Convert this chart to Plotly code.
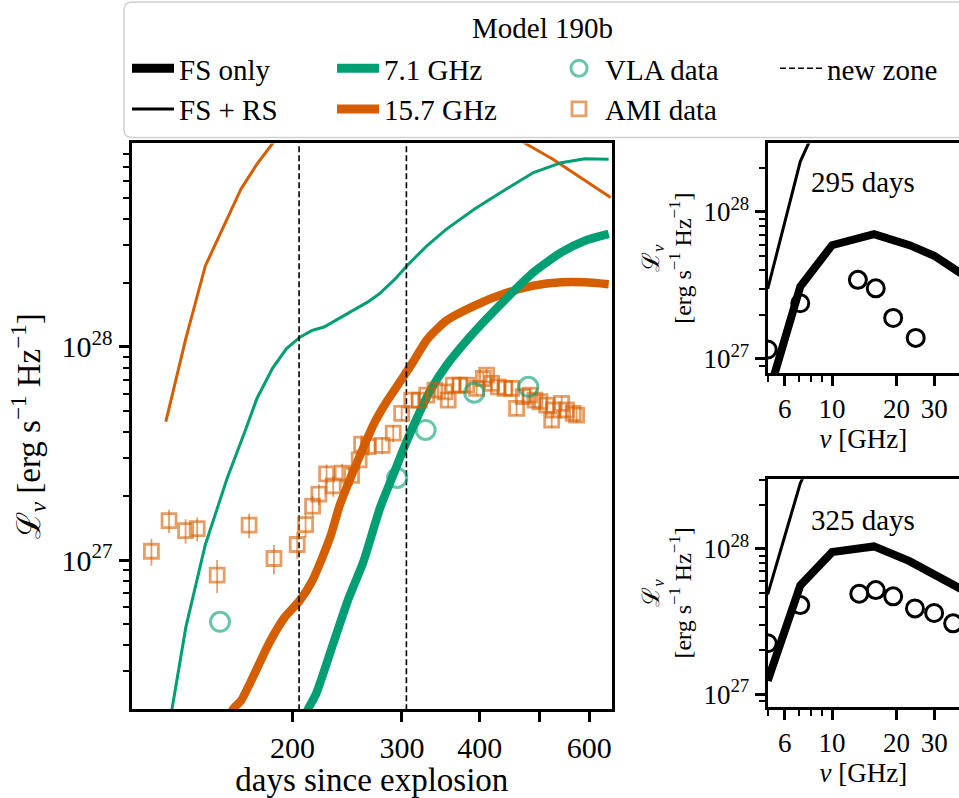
import numpy as np
import plotly.graph_objects as go

# ---------------- data: main light-curve panel ----------------
# 15.7 GHz, FS + RS (thin orange)
lc157_rs_days = [125.2, 134.8, 144.9, 156.0, 165.3, 175.4, 185.8, 200.0, 250.0, 300.0, 400.0, 474.0, 524.6, 649.6]
lc157_rs_lum = [4.46e27, 1.094e28, 2.40e28, 3.84e28, 5.5e28, 7.2e28, 9.0e28, 1.15e29, 1.6e29, 1.8e29, 1.23e29, 9.0e28, 7.6e28, 5.02e28]

# 7.1 GHz, FS + RS (thin green)
lc71_rs_days = [125.2, 128.0, 134.8, 144.9, 157.1, 167.7, 175.4, 185.8, 195.7, 205.9, 215.2, 224.8, 241.8,
                264.1, 276.0, 292.6, 305.6, 329.0, 353.8, 392.0, 440.8, 488.2, 541.0, 590.6, 644.8]
lc71_rs_lum = [1.35e26, 2.0e26, 4.83e26, 1.18e27, 2.42e27, 4.0e27, 5.73e27, 7.93e27, 9.82e27, 1.114e28, 1.196e28,
               1.24e28, 1.405e28, 1.623e28, 1.775e28, 2.085e28, 2.405e28, 2.98e28, 3.57e28, 4.43e28, 5.49e28,
               6.58e28, 7.32e28, 7.64e28, 7.59e28]

# 15.7 GHz, FS only (thick orange)
lc157_fs_days = [150.0, 160.6, 165.4, 172.8, 183.2, 194.2, 205.3, 215.2, 229.8, 238.5, 250.5, 259.9, 269.8,
                 283.4, 297.8, 312.7, 329.0, 353.8, 392.0, 440.8, 488.2, 541.0, 590.6, 644.8]
lc157_fs_lum = [1.2e26, 2.0e26, 2.19e26, 2.82e26, 4.04e26, 5.37e26, 6.43e26, 7.97e26, 1.27e27, 1.82e27, 2.61e27,
                3.35e27, 4.30e27, 5.53e27, 6.86e27, 8.51e27, 1.08e28, 1.33e28, 1.56e28, 1.79e28, 1.94e28,
                2.01e28, 2.01e28, 1.97e28]

# 7.1 GHz, FS only (thick green)
lc71_fs_days = [200.0, 212.0, 218.4, 231.5, 245.4, 260.3, 276.5, 290.5, 305.2, 320.6, 332.8, 353.8, 392.0,
                440.8, 488.2, 541.0, 590.6, 644.8]
lc71_fs_lum = [1.3e26, 2.0e26, 2.36e26, 3.89e26, 6.43e26, 9.88e26, 1.75e27, 2.51e27, 3.6e27, 4.97e27, 6.2e27,
               8.2e27, 1.175e28, 1.68e28, 2.24e28, 2.78e28, 3.15e28, 3.39e28]

# VLA data at 7.1 GHz
vla_days = [153.0, 294.7, 327.5, 392.0, 479.0]
vla_lum = [5.13e26, 2.43e27, 4.08e27, 6.1e27, 6.5e27]

# AMI data at 15.7 GHz
ami_days = [118.7, 126.7, 134.7, 140.6, 151.4, 170.4, 186.8, 203.6, 210.0, 215.5, 220.6, 227.0, 232.6, 240.5,
            249.0, 256.1, 258.4, 264.8, 278.8, 290.5, 299.7, 311.0, 319.9, 328.8, 339.0, 351.8, 356.0, 362.7,
            371.8, 381.2, 395.6, 405.5, 410.5, 418.1, 428.5, 439.2, 450.2, 458.6, 470.0, 481.8, 490.9, 500.0,
            512.6, 522.2, 525.4, 541.8, 551.8, 565.5, 572.6]
ami_lum = [1.10e27, 1.53e27, 1.375e27, 1.405e27, 8.5e26, 1.458e27, 1.017e27, 1.183e27, 1.467e27, 1.79e27,
           2.04e27, 2.54e27, 2.23e27, 2.56e27, 2.50e27, 2.95e27, 3.50e27, 3.41e27, 3.45e27, 3.94e27, 4.88e27,
           5.63e27, 5.63e27, 5.94e27, 6.27e27, 6.16e27, 5.63e27, 6.62e27, 6.62e27, 6.62e27, 6.39e27, 7.11e27,
           7.37e27, 6.74e27, 6.5e27, 6.39e27, 6.39e27, 5.15e27, 5.84e27, 5.94e27, 5.63e27, 5.53e27, 5.33e27,
           4.54e27, 5.06e27, 5.43e27, 5.06e27, 4.88e27, 4.79e27]
ami_err = [1.6e26, 1.9e26, 1.8e26, 1.8e26, 1.5e26, 1.9e26, 1.6e26, 1.7e26, 1.9e26, 2.1e26, 2.3e26, 2.7e26,
           2.5e26, 2.7e26, 2.7e26, 3.0e26, 3.3e26, 3.2e26, 3.2e26, 3.6e26, 4.0e26, 4.3e26, 4.3e26, 4.4e26,
           4.6e26, 4.6e26, 4.3e26, 4.8e26, 4.8e26, 4.8e26, 4.7e26, 5.1e26, 5.2e26, 5.0e26, 4.8e26, 4.7e26,
           4.7e26, 4.1e26, 4.5e26, 4.5e26, 4.3e26, 4.3e26, 4.2e26, 3.8e26, 4.0e26, 4.2e26, 4.0e26, 3.9e26,
           3.8e26]

new_zone_days = [205.0, 305.0]

# ---------------- data: spectra panels ----------------
spec_model_freq = [5.0, 7.1, 10.0, 15.7, 23.0, 30.0, 40.0]
spec295_fs = [5.5e26, 3.1e27, 5.94e27, 7.06e27, 5.94e27, 5.03e27, 3.82e27]
spec295_rs = [2.99e27, 2.2e28, 6.6e28, 1.6e29, 1.7e29, 1.5e29, 1.2e29]
spec325_fs = [1.235e27, 5.6e27, 9.5e27, 1.04e28, 8.23e27, 6.74e27, 5.3e27]
spec325_rs = [4.86e27, 2.83e28, 8.0e28, 2.0e29, 2.1e29, 1.9e29, 1.5e29]

obs295_freq = [5.0, 7.1, 13.2, 16.0, 19.3, 24.6]
obs295_lum = [1.16e27, 2.39e27, 3.45e27, 3.02e27, 1.90e27, 1.39e27]
obs325_freq = [5.0, 7.1, 13.4, 16.0, 19.3, 24.4, 30.0, 36.8]
obs325_lum = [2.24e27, 4.1e27, 4.91e27, 5.2e27, 4.71e27, 3.89e27, 3.62e27, 3.07e27]

# tick labels
main_x_ticks = [200, 300, 400, 500, 600]
main_x_labels = ["200", "300", "400", "", "600"]
spec_x_ticks = [6, 10, 20, 30]
spec_x_labels = ["6", "10", "20", "30"]
lum_ticks = [1e27, 1e28]
lum_labels = ["10<sup>27</sup>", "10<sup>28</sup>"]

# ---------------- styling ----------------
GREEN = "#009e73"
ORANGE = "#d55e00"
GREEN_A = "rgba(0,158,115,0.6)"
ORANGE_A = "rgba(213,94,0,0.6)"
FONT = "Liberation Serif, DejaVu Serif, serif"
W, H = 959, 798

fig = go.Figure()

# model curves (main)
fig.add_trace(go.Scatter(x=lc157_rs_days, y=lc157_rs_lum, mode="lines", line=dict(color=ORANGE, width=3),
                         showlegend=False, xaxis="x", yaxis="y"))
fig.add_trace(go.Scatter(x=lc71_rs_days, y=lc71_rs_lum, mode="lines", line=dict(color=GREEN, width=3),
                         showlegend=False, xaxis="x", yaxis="y"))
fig.add_trace(go.Scatter(x=lc157_fs_days, y=lc157_fs_lum, mode="lines", line=dict(color=ORANGE, width=8.5, shape="spline", smoothing=0.6),
                         showlegend=False, xaxis="x", yaxis="y"))
fig.add_trace(go.Scatter(x=lc71_fs_days, y=lc71_fs_lum, mode="lines", line=dict(color=GREEN, width=8.5, shape="spline", smoothing=0.6),
                         showlegend=False, xaxis="x", yaxis="y"))

# new zone lines
for i, d in enumerate(new_zone_days):
    fig.add_trace(go.Scatter(x=[d, d], y=[1e26, 1e29], mode="lines",
                             line=dict(color="black", width=1.6, dash="6px,3px"),
                             name="new zone", showlegend=(i == 0), legend="legend4", legendgroup="nz",
                             xaxis="x", yaxis="y"))

# AMI data
fig.add_trace(go.Scatter(x=ami_days, y=ami_lum, mode="markers", name="AMI data",
                         marker=dict(symbol="square-open", size=14, color=ORANGE_A, line=dict(width=2.8, color=ORANGE_A)),
                         error_y=dict(type="data", array=ami_err, color=ORANGE_A, thickness=1.8, width=0),
                         legend="legend3", legendgroup="ami", legendrank=2, xaxis="x", yaxis="y"))
# VLA data
fig.add_trace(go.Scatter(x=vla_days, y=vla_lum, mode="markers", name="VLA data",
                         marker=dict(symbol="circle-open", size=19, color=GREEN_A, line=dict(width=3, color=GREEN_A)),
                         legend="legend3", legendgroup="vla", legendrank=1, xaxis="x", yaxis="y"))

# legend-only entries
fig.add_trace(go.Scatter(x=[None], y=[None], mode="lines", line=dict(color="black", width=9),
                         name="FS only", legend="legend", legendgroup="fs", legendrank=1, xaxis="x", yaxis="y"))
fig.add_trace(go.Scatter(x=[None], y=[None], mode="lines", line=dict(color="black", width=3),
                         name="FS + RS", legend="legend", legendgroup="rs", legendrank=2, xaxis="x", yaxis="y"))
fig.add_trace(go.Scatter(x=[None], y=[None], mode="lines", line=dict(color=GREEN, width=9),
                         name="7.1 GHz", legend="legend2", legendgroup="g71", legendrank=1, xaxis="x", yaxis="y"))
fig.add_trace(go.Scatter(x=[None], y=[None], mode="lines", line=dict(color=ORANGE, width=9),
                         name="15.7 GHz", legend="legend2", legendgroup="g157", legendrank=2, xaxis="x", yaxis="y"))

# spectra panels
for (xa, ya, fs, rs, of, ol) in [("x2", "y2", spec295_fs, spec295_rs, obs295_freq, obs295_lum),
                                 ("x3", "y3", spec325_fs, spec325_rs, obs325_freq, obs325_lum)]:
    fig.add_trace(go.Scatter(x=spec_model_freq, y=rs, mode="lines", line=dict(color="black", width=3),
                             showlegend=False, xaxis=xa, yaxis=ya))
    fig.add_trace(go.Scatter(x=spec_model_freq, y=fs, mode="lines", line=dict(color="black", width=8),
                             showlegend=False, xaxis=xa, yaxis=ya))
    fig.add_trace(go.Scatter(x=of, y=ol, mode="markers",
                             marker=dict(symbol="circle-open", size=17, color="black", line=dict(width=3, color="black")),
                             showlegend=False, xaxis=xa, yaxis=ya))

def px_x(p):
    return p / W

def px_y(p):
    return 1 - p / H

axis_common = dict(showline=True, linecolor="black", linewidth=3, mirror=True, showgrid=False,
                   zeroline=False, ticks="outside", tickcolor="black", tickwidth=3, ticklen=10)
minor_style = dict(ticks="outside", ticklen=6, tickwidth=2, tickcolor="black")

main_y_minor = [3e26, 4e26, 5e26, 6e26, 7e26, 8e26, 9e26, 2e27, 3e27, 4e27, 5e27, 6e27, 7e27, 8e27, 9e27,
                2e28, 3e28, 4e28, 5e28, 6e28, 7e28, 8e28]
spec_y_minor = [9e26, 2e27, 3e27, 4e27, 5e27, 6e27, 7e27, 8e27, 9e27, 2e28, 3e28]
spec_x_minor = [5, 7, 8, 9, 40]

spec_ytitle = "ℒ<sub><i>ν</i></sub><br>[erg s<sup>−1</sup> Hz<sup>−1</sup>]"

LEG_TOP = 43


def leg(xpx):
    return dict(orientation="v", x=px_x(xpx), xanchor="left", y=px_y(LEG_TOP), yanchor="top",
                bgcolor="rgba(0,0,0,0)", borderwidth=0, font=dict(size=29, family=FONT),
                itemwidth=42, tracegroupgap=3, traceorder="normal")


fig.update_layout(
    width=W, height=H, margin=dict(l=0, r=0, t=0, b=0),
    paper_bgcolor="white", plot_bgcolor="white",
    font=dict(family=FONT, color="black", size=30),
    xaxis=dict(domain=[px_x(131.6), px_x(612)], type="log", range=[np.log10(110.3), np.log10(652.8)],
               anchor="y", tickvals=main_x_ticks, ticktext=main_x_labels, tickfont=dict(size=30),
               title=dict(text="days since explosion", font=dict(size=33), standoff=4), **axis_common),
    yaxis=dict(domain=[px_y(711.7), px_y(144)], type="log", range=[np.log10(2e26), np.log10(9.01e28)],
               anchor="x", tickvals=lum_ticks, ticktext=lum_labels, tickfont=dict(size=30),
               minor=dict(tickvals=main_y_minor, **minor_style),
               title=dict(text="ℒ<sub><i>ν</i></sub> [erg s<sup>−1</sup> Hz<sup>−1</sup>]", font=dict(size=33), standoff=12),
               **axis_common),
    xaxis2=dict(domain=[px_x(767.7), 1.0], type="log", range=[np.log10(5), np.log10(39.2)], anchor="y2",
                tickvals=spec_x_ticks, ticktext=spec_x_labels, tickfont=dict(size=27),
                minor=dict(tickvals=spec_x_minor, **minor_style),
                title=dict(text="<i>ν</i> [GHz]", font=dict(size=27), standoff=4), **axis_common),
    yaxis2=dict(domain=[px_y(374.3), px_y(144)], type="log", range=[26.905, 28.4654], anchor="x2",
                tickvals=lum_ticks, ticktext=lum_labels, tickfont=dict(size=27),
                minor=dict(tickvals=spec_y_minor, **minor_style),
                title=dict(text=spec_ytitle, font=dict(size=24), standoff=6),
                **{**axis_common, "mirror": False}),
    xaxis3=dict(domain=[px_x(767.7), 1.0], type="log", range=[np.log10(5), np.log10(39.2)], anchor="y3",
                tickvals=spec_x_ticks, ticktext=spec_x_labels, tickfont=dict(size=27),
                minor=dict(tickvals=spec_x_minor, **minor_style),
                title=dict(text="<i>ν</i> [GHz]", font=dict(size=27), standoff=4), **axis_common),
    yaxis3=dict(domain=[px_y(709.3), px_y(481)], type="log", range=[26.9135, 28.48], anchor="x3",
                tickvals=lum_ticks, ticktext=lum_labels, tickfont=dict(size=27),
                minor=dict(tickvals=spec_y_minor, **minor_style),
                title=dict(text=spec_ytitle, font=dict(size=24), standoff=6),
                **{**axis_common, "mirror": False}),
    legend=leg(127),
    legend2=leg(332),
    legend3=leg(553),
    legend4=leg(775),
    annotations=[
        dict(text="Model 190b", xref="paper", yref="paper", x=px_x(542), y=px_y(28), xanchor="center",
             yanchor="middle", showarrow=False, font=dict(size=29)),
        dict(text="295 days", xref="x2 domain", yref="y2 domain", x=0.216, y=0.832, xanchor="left",
             yanchor="middle", showarrow=False, font=dict(size=29)),
        dict(text="325 days", xref="x3 domain", yref="y3 domain", x=0.216, y=0.822, xanchor="left",
             yanchor="middle", showarrow=False, font=dict(size=29)),
    ],
    shapes=[
        dict(type="path", xref="paper", yref="paper", layer="below",
             path=(f"M {px_x(132)},{px_y(2)} L 1.05,{px_y(2)} L 1.05,{px_y(138)} L {px_x(132)},{px_y(138)} "
                   f"Q {px_x(124)},{px_y(138)} {px_x(124)},{px_y(130)} L {px_x(124)},{px_y(10)} "
                   f"Q {px_x(124)},{px_y(2)} {px_x(132)},{px_y(2)} Z"),
             line=dict(color="#d0d0d0", width=1.5), fillcolor="white"),
    ],
)

fig.write_html("out.html", config={"displayModeBar": False},
               post_script="document.body.style.margin='0px';document.body.style.overflow='hidden';")
